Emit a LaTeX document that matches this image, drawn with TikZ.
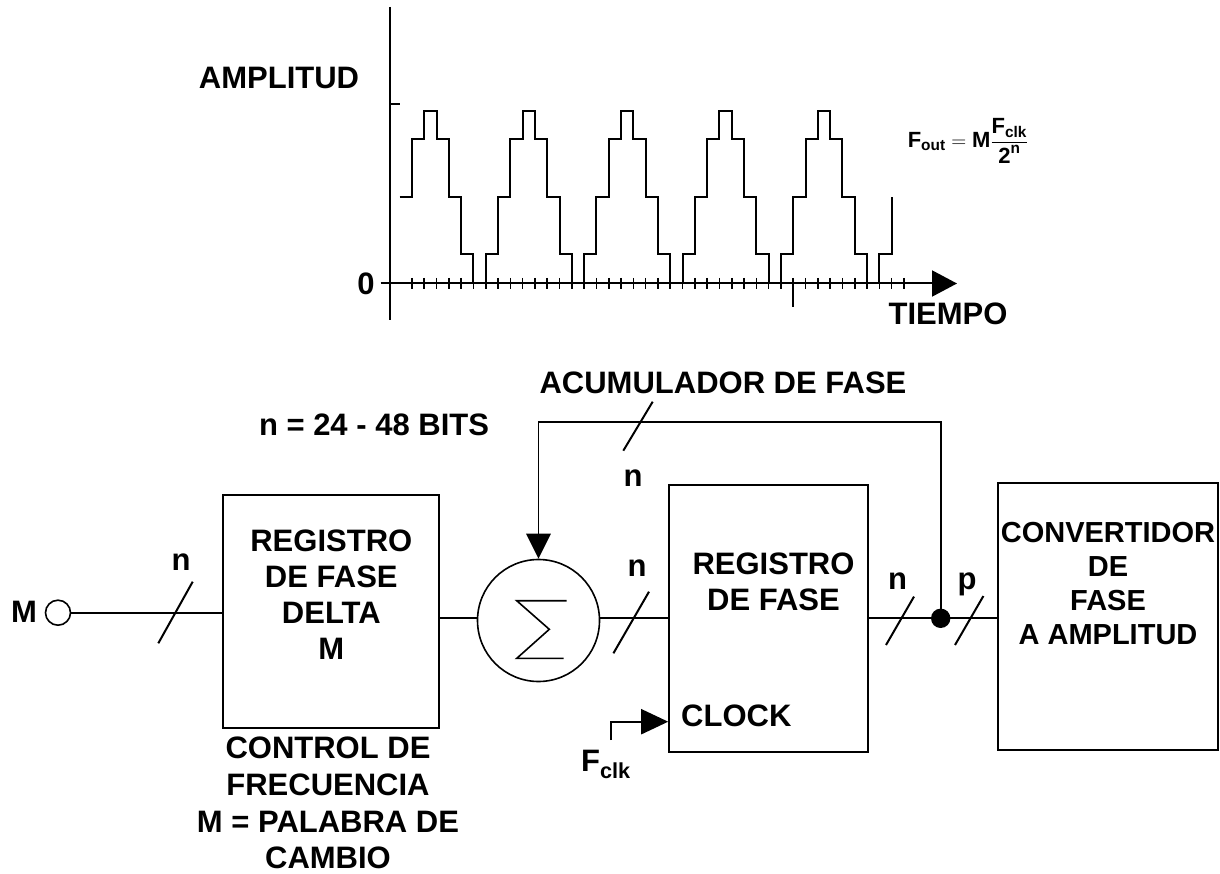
\documentclass[tikz,border=0pt]{standalone}
\usepackage{fontspec}
\setmainfont{Liberation Sans}
\usepackage{amsmath}
\usetikzlibrary{arrows.meta}

\begin{document}
\begin{tikzpicture}[
	x=1pt, y=-1pt,
	font=\fontsize{31}{36}\selectfont\bfseries,
	txt/.style={inner sep=0pt, anchor=base},
	lbl/.style={inner sep=0pt, align=center},
	blk/.style={draw, line width=2.2pt, inner sep=0pt},
	wire/.style={line width=2pt},
	thin/.style={line width=1.6pt},
	bus/.style={line width=2pt},
	sig/.style={line width=2pt},
	tick/.style={line width=1.6pt},
	arr/.style={-{Triangle[length=25pt, width=24.5pt]}}
]
\useasboundingbox (0,0) rectangle (1220,874);

% amplitude / time plot
\draw[sig] (389.5,7) -- (389.5,320);
\draw[sig] (389.5,104) -- (400,104);
\draw[sig, -{Triangle[length=25pt, width=26pt]}] (380.7,283.5) -- (957,283.5);
\foreach \k in {1,...,41}
	\draw[tick] (399.6+\k*12.3,278) -- ++(0,11);
\draw[tick] (793.2,283.5) -- (793.2,307);
\draw[sig] (399.6,196.7) \foreach \p in {1,...,5} {
	-| ++(12.3,-57.7) -| ++(12.3,-28.3) -| ++(12.3,28.3) -| ++(12.3,57.7)
	-| ++(12.3,57.3) -| ++(12.3,29.3) -| ++(12.3,-29.3) -| ++(12.3,-57.3)};

\node[txt] (amp) at (279,89) {AMPLITUD};
\node[txt] (zero) at (366,295) {0};
\node[txt] (tiempo) at (948,325) {TIEMPO};
\node[inner sep=0pt, font=\fontsize{22}{26}\selectfont\bfseries] (fout) at (968,141)
	{$\text{F}_{\text{out}} = \text{M}\dfrac{\text{F}_{\text{clk}}}{\text{2}^{\text{n}}}$};

% blocks
\node[txt] (minput) at (24,622) {M};
\node[circle, draw, thin, minimum size=25pt, inner sep=0pt] (mterm) at (58,612.7) {};
\node[blk, minimum width=215.7pt, minimum height=233.3pt] (dfase) at (331.2,611.7) {};
\node[lbl] (dfasetxt) at (331.3,594.5) {REGISTRO\\DE FASE\\DELTA\\M};
\node[lbl, font=\fontsize{31}{36.7}\selectfont\bfseries] (ctrl) at (328,803)
	{CONTROL DE\\FRECUENCIA\\M = PALABRA DE\\CAMBIO};

\node[circle, draw, thin, minimum size=122pt, inner sep=0pt] (sum) at (538.5,620.5) {};
\draw[thin] ([shift={(28.2,-19.8)}]sum.center) -- ++(-50,0) -- ++(32.6,28.6)
	-- ++(-32.5,29) -- ++(46.7,0);

\node[blk, minimum width=198.4pt, minimum height=266.7pt] (reg) at (768.5,618.3) {};
\node[lbl] (regtxt) at (773.5,582.3) {REGISTRO\\DE FASE};
\node[txt, anchor=base west] (clk) at (681,726) {CLOCK};

\node[blk, minimum width=219.7pt, minimum height=266.7pt] (conv) at (1108.2,616.7) {};
\node[lbl, font=\fontsize{29}{34}\selectfont\bfseries] (convtxt) at (1108,583.3)
	{CONVERTIDOR\\DE\\FASE\\A AMPLITUD};

\node[circle, fill, minimum size=19.4pt, inner sep=0pt] (tap) at (940.7,618.3) {};

\node[txt] (acum) at (723,393) {ACUMULADOR DE FASE};
\node[txt] (bits) at (374,435) {n = 24 - 48 BITS};
\node[txt] (nin) at (181,570) {n};
\node[txt] (nfb) at (633,486.7) {n};
\node[txt] (nsum) at (637,576.7) {n};
\node[txt] (nout) at (897.5,589.3) {n};
\node[txt] (pout) at (967,589) {p};
\node[txt, anchor=base west] (fclk) at (581,771.7) {F\textsubscript{clk}};

% connections
\coordinate (fbtop) at (0,421.7);
\coordinate (clkfoot) at (610.7,740);
\draw[wire] (mterm.east) -- (mterm.east -| dfase.west);
\draw[wire] (dfase.east |- reg.west) -- (sum.west |- reg.west);
\draw[wire] (sum.east |- reg.west) -- (reg.west);
\draw[wire] (reg.east) -- (tap.center) -- (conv.west |- tap);
\draw[thin, arr] (tap.center) -- (tap |- fbtop) -| (sum.north);
\draw[wire, -{Triangle[length=27pt, width=25pt]}] (clkfoot) |- (reg.west |- 0,721.7);

% bus width marks
\foreach \sx/\sy/\dx/\dy in {175.5/612.5/17.2/30.8, 631.2/622.5/17.8/30.8,
	638/426.2/14.7/24.5, 900/620.8/14/24.2, 969.2/620.5/14.2/24.5}
	\draw[bus] (\sx+\dx,\sy-\dy) -- (\sx-\dx,\sy+\dy);

\end{tikzpicture}
\end{document}
